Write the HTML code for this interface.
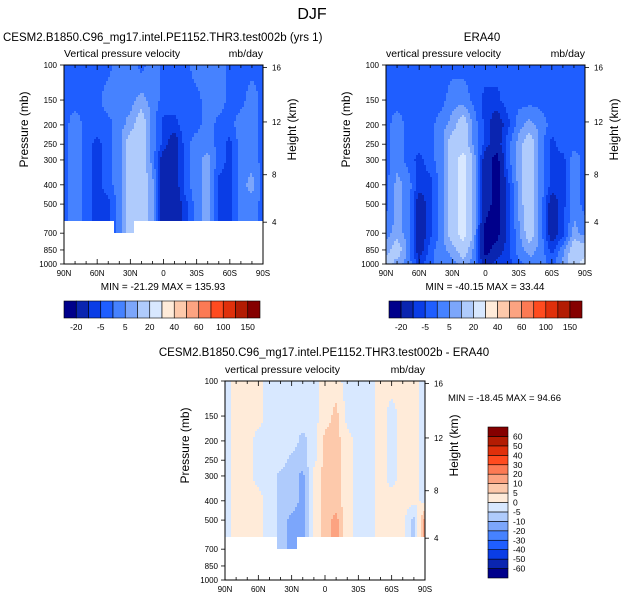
<!DOCTYPE html>
<html><head><meta charset="utf-8">
<style>
body{margin:0;background:#fff;}
svg{display:block;font-family:"Liberation Sans",Arial,sans-serif;}
</style></head>
<body>
<svg id="fig" width="625" height="602" viewBox="0 0 625 602" xmlns="http://www.w3.org/2000/svg">
<text x="312" y="19" font-size="16" text-anchor="middle">DJF</text>
<text x="3" y="41" font-size="11.5">CESM2.B1850.C96_mg17.intel.PE1152.THR3.test002b (yrs 1)</text>
<text x="482" y="41" font-size="11.5" text-anchor="middle">ERA40</text>
<text x="324" y="356" font-size="11.5" text-anchor="middle">CESM2.B1850.C96_mg17.intel.PE1152.THR3.test002b - ERA40</text>
<text x="448" y="401" font-size="9.5">MIN = -18.45  MAX =  94.66</text>
<text x="163" y="290" font-size="10" text-anchor="middle">MIN = -21.29  MAX = 135.93</text>
<text x="485" y="290" font-size="10" text-anchor="middle">MIN = -40.15  MAX =  33.44</text>
<g id="layer"></g>
</svg>
<script>
// ---- data ----
const lats = [90,80,70,60,50,40,30,20,10,0,-10,-20,-30,-40,-50,-60,-70,-80,-90];
const pLevels = [100,150,200,250,300,400,500,700,850,1000];
const pTickLabels = [100,150,200,250,300,400,500,700,850,1000];
const xTickLats = [90,60,30,0,-30,-60,-90];
const xTickLabels = ["90N","60N","30N","0","30S","60S","90S"];
const heightTicks = [16,12,8,4];
const topLevels = [-20,-10,-5,0,5,10,20,30,40,50,60,80,100,120,150];
const topLevelLabels = ["-20","","-5","","5","","20","","40","","60","","100","","150"];
const diffLevels = [-60,-50,-40,-30,-20,-10,-5,0,5,10,20,30,40,50,60];
const palette = ["#00008b","#0a25b0","#0a3de6","#1f5eff","#4682ff","#7ca6fb","#afcbfc","#d8e8ff","#ffebd9","#fdc9ab","#fca381","#fc7a54","#ff4b1f","#e0300b","#b31c03","#850000"];

const modelField = [
 [-2,-2,-2,-2,-2,3,3,-2,3,-2,-2,-2,3,3,3,-2,-2,-2,-2],
 [-2,-2,-2,-2,3,3,3,7,3,-2,-2,-2,-2,3,3,-2,-2,3,-2],
 [-2,3,-2,-2,-2,3,7,15,3,-7,-7,-2,-2,3,-2,-2,3,3,-2],
 [-2,3,-2,-7,-2,3,15,15,3,-7,-15,-2,3,3,-2,-7,3,3,-2],
 [-2,3,-2,-7,-2,3,15,15,3,-15,-15,-2,3,7,-2,-7,3,3,-2],
 [-2,3,-2,-7,-2,3,15,15,7,-15,-15,-2,3,7,-7,-7,3,7,-2],
 [-2,3,-2,-7,-7,3,15,15,7,-15,-15,-7,3,7,-7,-7,3,3,-2],
 [-2,3,-2,-7,-7,3,15,15,7,-15,-15,-7,3,7,-7,-7,3,3,-2],
 [-2,3,-2,-7,-7,3,15,15,7,-15,-15,-7,3,7,-7,-7,3,3,-2],
 [-2,3,-2,-7,-7,3,15,15,7,-15,-15,-7,3,7,-7,-7,3,3,-2]
];
const obsField = [
 [-2,-2,-2,-2,-2,-2,-2,-2,-2,-2,-2,-2,-2,-2,-2,-2,-2,-2,-2],
 [-2,-2,-2,-2,-2,-2,3,3,-2,-7,-7,-2,-2,-2,-2,-2,-2,-2,-2],
 [-2,3,-2,-2,-2,3,7,15,3,-7,-15,-7,3,7,3,-2,-2,-2,-2],
 [-2,3,-2,-2,-2,3,15,15,3,-7,-15,-2,7,15,3,-7,-2,-2,-2],
 [-2,3,-2,-7,-2,3,15,25,7,-15,-25,-2,7,15,3,-7,-7,3,-2],
 [-2,7,3,-7,-7,3,15,25,7,-15,-25,-7,7,15,3,-7,-7,3,-2],
 [-2,7,3,-15,-7,3,15,25,7,-15,-25,-7,7,15,3,-15,-7,3,-2],
 [3,7,3,-15,-7,3,15,25,7,-25,-25,-7,3,15,3,-15,-7,7,3],
 [7,15,3,-15,-2,3,7,15,3,-25,-15,-7,3,7,3,-7,3,15,15],
 [15,7,3,-7,-2,3,3,7,3,-15,-7,-7,-2,3,3,-2,7,15,25]
];
const diffField = [
 [-2,2,2,2,-2,-2,-2,-2,-2,2,2,-2,-2,-2,2,2,2,2,-2],
 [-2,2,2,2,-2,-2,-2,-2,-2,2,7,-2,-2,-2,2,-2,2,2,-2],
 [-2,2,2,-2,-2,-2,-2,-7,-2,7,7,2,-2,-2,2,-2,2,2,-2],
 [-2,2,2,-2,-2,-2,-7,-7,-2,7,7,2,-2,-2,2,-2,2,2,-2],
 [-2,2,2,-2,-2,-7,-7,-12,2,7,7,2,-2,-2,2,-2,2,2,-2],
 [-2,2,2,2,-2,-7,-7,-12,2,7,7,2,-2,-2,2,2,2,2,-2],
 [-2,2,2,2,-2,-7,-12,-12,2,7,12,2,-2,-2,2,2,2,-7,12],
 [-2,2,2,2,-2,-7,-12,-12,2,7,12,2,-2,-2,2,2,2,-7,12],
 [-2,2,2,2,-2,-7,-12,-12,2,7,12,2,-2,-2,2,2,2,-7,12],
 [-2,2,2,2,-2,-7,-12,-12,2,7,12,2,-2,-2,2,2,2,-7,12]
];
// missing data (in data units): below cutP, except latitude window down to windowP
const missingCutP = 608;
const missingWindow = [44,26,700];

// ---- drawing ----
const NS="http://www.w3.org/2000/svg";
const layer=document.getElementById('layer');
function el(tag,attrs,parent){const e=document.createElementNS(NS,tag);for(const k in attrs)e.setAttribute(k,attrs[k]);(parent||layer).appendChild(e);return e;}
function classify(v,levels){let i=0;while(i<levels.length&&v>=levels[i])i++;return i;}
function pOfZ(z){return z<=11?1013.25*Math.pow(1-z/44.33,5.256):226.3*Math.exp(-(z-11)/6.34);}
function sample(field,lat,p){
  let fx=(90-lat)/10; let i=Math.max(0,Math.min(Math.floor(fx),lats.length-2)); let tx=Math.max(0,Math.min(1,fx-i));
  let lp=Math.log(p); let j=0; while(j<pLevels.length-2&&Math.log(pLevels[j+1])<lp)j++;
  let ty=(lp-Math.log(pLevels[j]))/(Math.log(pLevels[j+1])-Math.log(pLevels[j])); ty=Math.max(0,Math.min(1,ty));
  const a=field[j][i],b=field[j][i+1],c=field[j+1][i],d=field[j+1][i+1];
  return (a*(1-tx)+b*tx)*(1-ty)+(c*(1-tx)+d*tx)*ty;
}
function panel(o){
  const g=el('g',{});
  const xs=lat=>o.x+(90-lat)/180*o.w;
  const ys=p=>o.y+Math.log10(p/100)*o.h;
  const cell=2;
  const fg=el('g',{'shape-rendering':'crispEdges'},g);
  
  
  for(let py=0;py<o.h;py+=cell){
    const p=100*Math.pow(10,Math.min(py+cell/2,o.h)/o.h);
    const hh=Math.min(cell,o.h-py);
    let runStart=0,runCol=null;
    const flush=(end)=>{
      if(runCol!==null&&runCol!=='#ffffff'){
        el('rect',{x:o.x+runStart,y:o.y+py,width:end-runStart,height:hh,fill:runCol},fg);
      }
    };
    for(let px=0;px<o.w;px+=cell){
      const lat=90-Math.min(px+cell/2,o.w)/o.w*180;
      let miss=false;
      if(o.mask&&p>missingCutP){miss=!(lat<=missingWindow[0]&&lat>=missingWindow[1]&&p<=missingWindow[2]);}
      const col=miss?'#ffffff':palette[classify(sample(o.field,lat,p),o.levels)];
      if(col!==runCol){flush(px);runStart=px;runCol=col;}
    }
    flush(o.w);
  }
  const frame=el('rect',{x:o.x,y:o.y,width:o.w,height:o.h,fill:'none',stroke:'#000','stroke-width':1},g);
  
  
  for(let lat=90;lat>=-90;lat-=10){
    const major=lat%30===0; const L=major?5:3; const X=xs(lat);
    el('line',{x1:X,x2:X,y1:o.y+o.h,y2:o.y+o.h-L,stroke:'#000','stroke-width':0.8},g);
    el('line',{x1:X,x2:X,y1:o.y,y2:o.y+L,stroke:'#000','stroke-width':0.8},g);
  }
  xTickLats.forEach((lat,k)=>{
    const t=el('text',{x:xs(lat),y:o.y+o.h+12,'font-size':8,'text-anchor':'middle'},g);
    t.textContent=xTickLabels[k];
    
    
  });
  pTickLabels.forEach(p=>{
    const Y=ys(p);
    el('line',{x1:o.x-4,x2:o.x,y1:Y,y2:Y,stroke:'#000','stroke-width':0.8},g);
    const t=el('text',{x:o.x-7,y:Y+3,'font-size':8,'text-anchor':'end'},g);
    t.textContent=p;
    
    
  });
  heightTicks.forEach(z=>{
    const Y=ys(pOfZ(z));
    el('line',{x1:o.x+o.w,x2:o.x+o.w+4,y1:Y,y2:Y,stroke:'#000','stroke-width':0.8},g);
    const t=el('text',{x:o.x+o.w+9,y:Y+3,'font-size':8},g);
    t.textContent=z;
    
    
  });
  const yt=el('text',{x:0,y:0,'font-size':12,'text-anchor':'middle',transform:`translate(${o.x-36},${o.y+o.h/2-35}) rotate(-90)`},g);
  yt.textContent='Pressure (mb)';
  
  
  const ht=el('text',{x:0,y:0,'font-size':12,'text-anchor':'middle',transform:`translate(${o.x+o.w+33},${o.y+o.h/2-35}) rotate(-90)`},g);
  ht.textContent='Height (km)';
  
  
  const lt=el('text',{x:o.x,y:o.y-8,'font-size':10.5},g);
  lt.textContent=o.label;
  
  
  const ut=el('text',{x:o.x+o.w,y:o.y-8,'font-size':10.5,'text-anchor':'end'},g);
  ut.textContent='mb/day';
  
  
}
panel({name:'model-panel',x:64,y:65,w:199,h:199,field:modelField,levels:topLevels,mask:true,label:'Vertical pressure velocity'});
panel({name:'obs-panel',x:386,y:65,w:199,h:199,field:obsField,levels:topLevels,mask:false,label:'vertical pressure velocity'});
panel({name:'diff-panel',x:225,y:381,w:200,h:199,field:diffField,levels:diffLevels,mask:true,label:'vertical pressure velocity'});

function hbar(name,x,y,w,h){
  const g=el('g',{});
  
  
  const cw=w/palette.length;
  palette.forEach((c,i)=>{
    const r=el('rect',{x:x+i*cw,y:y,width:cw,height:h,fill:c,stroke:'#000','stroke-width':0.6},g);
    
    
  });
  topLevelLabels.forEach((s,i)=>{
    if(!s)return;
    const t=el('text',{x:x+(i+1)*cw,y:y+h+12,'font-size':8.5,'text-anchor':'middle'},g);
    t.textContent=s;
    
    
  });
}
hbar('model-colorbar',64,301,196,17);
hbar('obs-colorbar',389,301,193,17);
(function(){
  const x=488,y=427,w=20,h=151;
  const g=el('g',{});
  
  
  const ch=h/palette.length;
  palette.forEach((c,i)=>{
    const r=el('rect',{x:x,y:y+h-(i+1)*ch,width:w,height:ch,fill:c,stroke:'#000','stroke-width':0.6},g);
    
    
  });
  diffLevels.forEach((v,i)=>{
    const t=el('text',{x:x+w+5,y:y+h-(i+1)*ch+3,'font-size':8.5},g);
    t.textContent=v;
    
    
  });
})();
</script>
</body></html>
